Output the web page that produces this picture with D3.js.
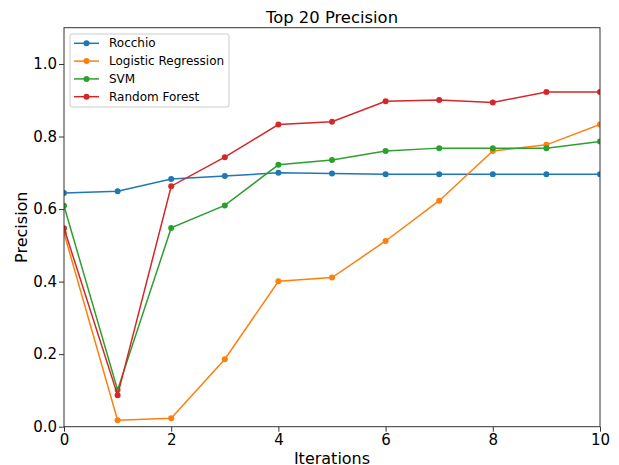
<!DOCTYPE html>
<html>
<head>
<meta charset="utf-8">
<script src="https://cdn.jsdelivr.net/npm/d3@7"></script>
<style>
  body { margin: 0; background: #fff; }
  text { font-family: "DejaVu Sans", sans-serif; }
</style>
</head>
<body>
<svg id="canvas" width="619" height="465"></svg>
<script>
// values
const iterations = [0, 1, 2, 3, 4, 5, 6, 7, 8, 9, 10];
const rocchio = [0.644, 0.649, 0.683, 0.691, 0.700, 0.698, 0.696, 0.696, 0.696, 0.696, 0.696];
const logistic = [0.534, 0.018, 0.023, 0.186, 0.401, 0.411, 0.512, 0.623, 0.760, 0.777, 0.833];
const svm = [0.609, 0.101, 0.548, 0.610, 0.722, 0.735, 0.760, 0.768, 0.768, 0.768, 0.786];
const forest = [0.547, 0.087, 0.663, 0.743, 0.833, 0.841, 0.897, 0.901, 0.894, 0.923, 0.923];
const seriesNames = ['Rocchio', 'Logistic Regression', 'SVM', 'Random Forest'];
const seriesColors = ['#1f77b4', '#ff7f0e', '#2ca02c', '#d62728'];
const xTicks = [0, 2, 4, 6, 8, 10];
const yTicks = [0.0, 0.2, 0.4, 0.6, 0.8, 1.0];

const allSeries = [rocchio, logistic, svm, forest];

const plotLeft = 64, plotRight = 600, plotTop = 27.7, plotBottom = 426.7;

let canvas = d3.select('#canvas');

const x = d3.scaleLinear().domain([0, 10]).range([plotLeft, plotRight]);
const y = d3.scaleLinear().domain([0, 1.1]).range([plotBottom, plotTop]);

canvas.append('clipPath').attr('id', 'plotclip')
  .append('rect')
  .attr('x', plotLeft).attr('y', plotTop)
  .attr('width', plotRight - plotLeft).attr('height', plotBottom - plotTop);

//lines and markers
const line = d3.line().x((d, i) => x(iterations[i])).y(d => y(d));
const plot = canvas.append('g').attr('clip-path', 'url(#plotclip)');
allSeries.forEach((s, k) => {
  plot.append('path')
    .datum(s)
    .attr('d', line)
    .attr('fill', 'none')
    .attr('stroke', seriesColors[k])
    .attr('stroke-width', 1.5);
  plot.selectAll('circle.s' + k)
    .data(s)
    .enter()
    .append('circle')
    .attr('class', 's' + k)
    .attr('cx', (d, i) => x(iterations[i]))
    .attr('cy', d => y(d))
    .attr('r', 3)
    .attr('fill', seriesColors[k]);
});

//axes
const xAxis = canvas.append('g')
  .attr('transform', `translate(0, ${plotBottom})`)
  .call(d3.axisBottom(x).tickValues(xTicks).tickSize(5).tickPadding(3).tickFormat(d3.format('d')));
const yAxis = canvas.append('g')
  .attr('transform', `translate(${plotLeft}, 0)`)
  .call(d3.axisLeft(y).tickValues(yTicks).tickSize(5).tickPadding(2).tickFormat(d3.format('.1f')));
[xAxis, yAxis].forEach(a => {
  a.select('.domain').remove();
  a.selectAll('.tick line').attr('stroke', '#333').attr('stroke-width', 1);
  a.selectAll('.tick text').attr('font-size', 15).attr('fill', '#000')
    .style('font-family', '"DejaVu Sans", sans-serif');
});

//frame
canvas.append('rect')
  .attr('x', plotLeft).attr('y', plotTop)
  .attr('width', plotRight - plotLeft).attr('height', plotBottom - plotTop)
  .attr('fill', 'none')
  .attr('stroke', '#333')
  .attr('stroke-width', 1);

//titles
canvas.append('text')
  .attr('x', (plotLeft + plotRight) / 2).attr('y', 22.5)
  .attr('text-anchor', 'middle')
  .attr('font-size', 16.4)
  .text('Top 20 Precision');
canvas.append('text')
  .attr('x', (plotLeft + plotRight) / 2).attr('y', 463.5)
  .attr('text-anchor', 'middle')
  .attr('font-size', 16)
  .text('Iterations');
canvas.append('text')
  .attr('transform', `translate(27, ${(plotTop + plotBottom) / 2}) rotate(-90)`)
  .attr('text-anchor', 'middle')
  .attr('font-size', 16)
  .text('Precision');

//legend
const legend = canvas.append('g');
legend.append('rect')
  .attr('x', 70).attr('y', 34)
  .attr('width', 159).attr('height', 73)
  .attr('rx', 2)
  .attr('fill', '#fff')
  .attr('fill-opacity', 0.8)
  .attr('stroke', '#ccc');
seriesNames.forEach((name, k) => {
  const ly = 43.3 + k * 17.8;
  legend.append('line')
    .attr('x1', 74).attr('x2', 99)
    .attr('y1', ly).attr('y2', ly)
    .attr('stroke', seriesColors[k]).attr('stroke-width', 1.5);
  legend.append('circle')
    .attr('cx', 86.5).attr('cy', ly).attr('r', 3)
    .attr('fill', seriesColors[k]);
  legend.append('text')
    .attr('x', 109).attr('y', ly + 4)
    .attr('font-size', 12)
    .text(name);
});
</script>
</body>
</html>
